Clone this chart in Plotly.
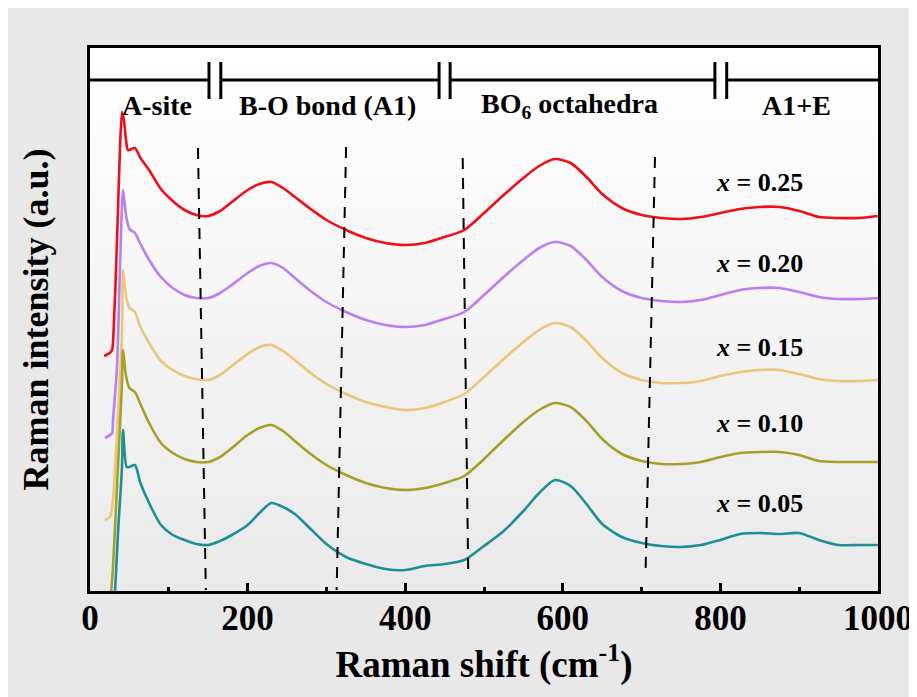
import plotly.graph_objects as go

# ---------------- data ----------------
grid = [50, 57, 64, 75, 90, 105, 120, 135, 150, 165, 180, 200, 215, 230, 245, 260, 280,
        300, 325, 350, 375, 400, 425, 450, 475, 500, 525, 550, 570, 590, 610, 630, 650,
        675, 700, 725, 750, 775, 800, 825, 850, 875, 900, 925, 950, 975, 1000]

# x = 0.25
red_x0 = [18, 25, 28, 30.5, 33, 35.5, 38, 40.6, 43, 45.7, 48]
red_y0 = [235, 238, 241, 271, 321, 381, 441, 479, 471, 451, 441]
red_y = [441, 443, 433, 421, 402, 390, 381, 376, 375, 380, 389, 401, 407, 409, 403, 394, 382,
         371, 361, 353, 348, 346, 348, 354, 361, 378, 396, 413, 425, 432, 428, 414, 397,
         383, 376, 373, 372, 374, 378, 382, 384, 384, 380, 374, 373, 373, 375]

# x = 0.20
pur_x0 = [19, 28, 29.2, 34.3, 38.1, 41.9, 45.7]
pur_y0 = [153, 158, 171, 224, 324, 401, 376]
pur_y = [362, 358, 347, 331, 314, 303, 296, 293, 293, 298, 306, 318, 325, 328, 323, 313, 300,
         289, 279, 271, 266, 264, 266, 272, 279, 296, 314, 331, 343, 349, 345, 331, 314,
         300, 293, 290, 289, 291, 296, 301, 303, 303, 299, 294, 292, 292, 293]

# x = 0.15
tan_x0 = [19, 25.4, 29.2, 34.3, 40.6, 41.9, 45.7]
tan_y0 = [71, 74, 91, 158, 258, 321, 295]
tan_y = [283, 279, 264, 248, 230, 221, 215, 212, 211, 216, 225, 237, 244, 246, 240, 231, 218,
         207, 197, 189, 184, 181, 183, 189, 197, 214, 232, 249, 261, 268, 264, 250, 233,
         218, 211, 208, 208, 210, 215, 219, 221, 221, 217, 212, 210, 210, 211]

# x = 0.10
oli_x0 = [26.6, 29.2, 35.5, 40.6, 41.9, 45.7]
oli_y0 = [-4, 24, 124, 208, 241, 215]
oli_y = [203, 199, 187, 168, 148, 138, 132, 129, 129, 134, 143, 156, 163, 166, 160, 150, 137,
         126, 116, 108, 103, 101, 103, 108, 115, 132, 151, 169, 181, 188, 184, 170, 152,
         137, 130, 127, 127, 129, 134, 138, 139, 139, 136, 130, 129, 129, 129]

# x = 0.05
tea_x0 = [31.7, 35.5, 40.6, 41.9, 46.5]
tea_y0 = [-2, 58, 124, 161, 124]
tea_y = [124, 126, 108, 88, 66, 56, 51, 47, 46, 50, 56, 66, 78, 88, 84, 77, 62,
         47, 34, 27, 22, 21, 25, 27, 31, 45, 60, 80, 98, 111, 105, 87, 67,
         54, 48, 45, 44, 46, 51, 57, 58, 57, 58, 51, 46, 46, 46]

series_names = ["x = 0.25", "x = 0.20", "x = 0.15", "x = 0.10", "x = 0.05"]
label_x = [850, 850, 850, 850, 850]
label_y = [409, 328, 244, 168, 88]

region_names = ["A-site", "B-O bond (A1)", "BO<sub>6</sub> octahedra", "A1+E"]
region_x = [85, 301, 609, 897]
region_y = 486
break_pairs = [(151, 166), (443, 457), (793, 808)]
bracket_y = 511

dash_lines = [((137, 443), (147, 1)), ((325, 444), (313, 1)),
              ((473, 433), (480, 18)), ((717, 434), (705, 18))]

xticks = [0, 200, 400, 600, 800, 1000]

# ---------------- styling ----------------
FONT = "Times New Roman, Liberation Serif, serif"
colors = ["#ee0f17", "#b980f0", "#ecc67a", "#a6a02a", "#1e9094"]

fig = go.Figure()

series = [(red_x0, red_y0, red_y), (pur_x0, pur_y0, pur_y), (tan_x0, tan_y0, tan_y),
          (oli_x0, oli_y0, oli_y), (tea_x0, tea_y0, tea_y)]
for (x0, y0, yv), c, nm in zip(series, colors, series_names):
    fig.add_trace(go.Scatter(x=x0 + grid, y=y0 + yv, mode="lines", name=nm,
                             line=dict(color=c, width=2.6, shape="spline", smoothing=0.7),
                             showlegend=False))

shapes = []
# gradient plot background
nb = 30
for i in range(nb):
    t = i / (nb - 1)
    v = int(round(234 + (255 - 234) * t))
    col = f"rgb({v},{v},{v})"
    shapes.append(dict(type="rect", xref="paper", yref="paper", x0=0, x1=1,
                       y0=i / nb, y1=(i + 1) / nb + 0.002, fillcolor=col,
                       line=dict(width=0), layer="below"))

# bracket line with breaks
segs = [0] + [v for p in break_pairs for v in p] + [1000]
for a, b in zip(segs[0::2], segs[1::2]):
    shapes.append(dict(type="line", xref="x", yref="y", x0=a, x1=b, y0=bracket_y, y1=bracket_y,
                       line=dict(color="black", width=3)))
for p in break_pairs:
    for v in p:
        shapes.append(dict(type="line", xref="x", yref="y", x0=v, x1=v, y0=bracket_y - 19,
                           y1=bracket_y + 18, line=dict(color="black", width=3)))
# dashed separators
for (xa, ya), (xb, yb) in dash_lines:
    shapes.append(dict(type="line", xref="x", yref="y", x0=xa, y0=ya, x1=xb, y1=yb,
                       line=dict(color="black", width=2, dash="11px,9px")))

annotations = []
for nm, lx, ly in zip(series_names, label_x, label_y):
    txt = "<i>x</i>" + nm[1:]
    annotations.append(dict(x=lx, y=ly, xref="x", yref="y", text=txt, showarrow=False,
                            font=dict(family=FONT, size=26, color="black", weight="bold")))
for nm, rx in zip(region_names, region_x):
    annotations.append(dict(x=rx, y=region_y, xref="x", yref="y", text=nm, showarrow=False,
                            font=dict(family=FONT, size=28, color="black", weight="bold")))

fig.update_layout(
    width=917, height=697,
    margin=dict(l=82, r=47, t=40, b=114),
    paper_bgcolor="#e8e8e8",
    plot_bgcolor="white",
    shapes=shapes,
    annotations=annotations,
    showlegend=False,
    xaxis=dict(range=[0, 1000], tickvals=xticks, ticks="inside", ticklen=8, tickwidth=3,
               tickcolor="black", showline=True, linewidth=3, linecolor="black", mirror=True,
               showgrid=False, zeroline=False, ticklabelstandoff=-6,
               minor=dict(dtick=100, tick0=0, ticks="inside", ticklen=4, tickwidth=3,
                          tickcolor="black", showgrid=False),
               tickfont=dict(family=FONT, size=35, color="black", weight="bold"),
               title=dict(text="Raman shift (cm<sup>-1</sup>)", standoff=12,
                          font=dict(family=FONT, size=37, color="black", weight="bold"))),
    yaxis=dict(range=[0, 543], showticklabels=False, ticks="", showline=True, linewidth=3,
               linecolor="black", mirror=True, showgrid=False, zeroline=False,
               title=dict(text="Raman intensity (a.u.)", standoff=28,
                          font=dict(family=FONT, size=36, color="black", weight="bold"))),
)

fig.write_html("out.html")
